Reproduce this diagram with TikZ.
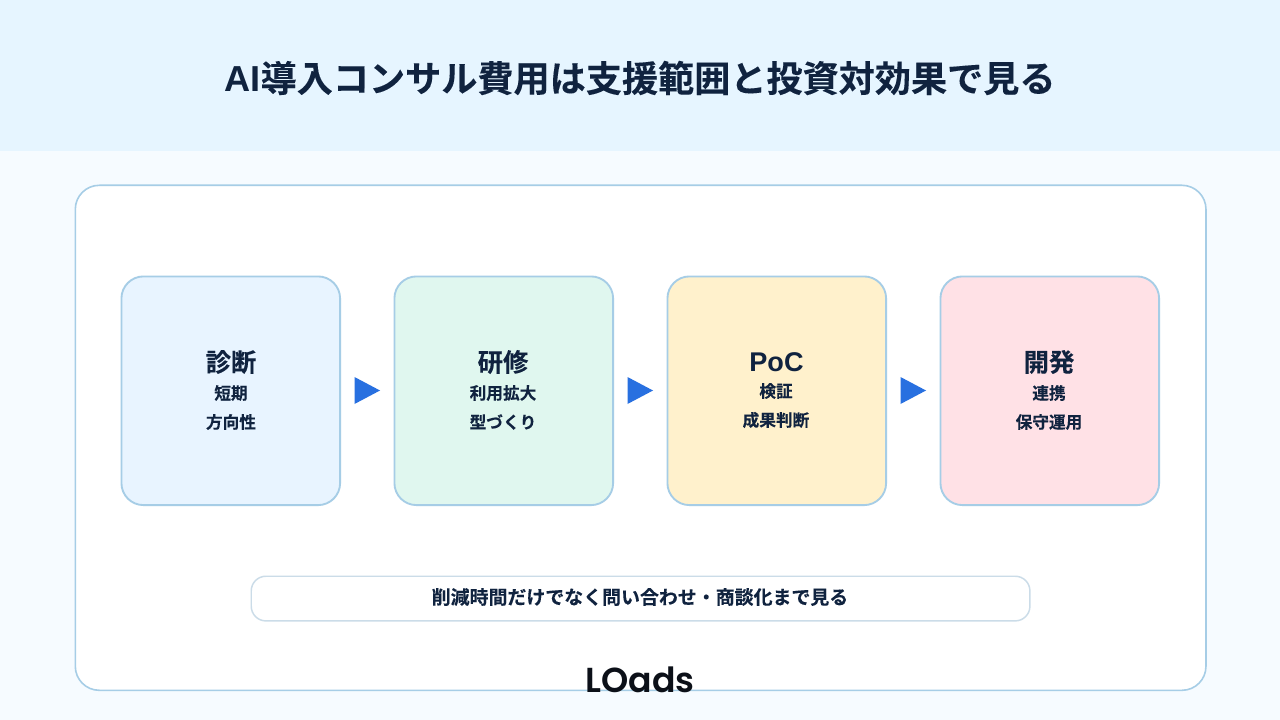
\documentclass[tikz,border=0pt]{standalone}
\usepackage{fontspec}
\setmainfont{Noto Sans CJK JP}[BoldFont={Noto Sans CJK JP Bold},BoldFeatures={FakeBold=0.12}]
\newfontfamily\logofont{Poppins}[BoldFont={Poppins SemiBold}]
\newfontfamily\latinfont{Liberation Sans}[BoldFont={Liberation Sans Bold}]
\definecolor{ink}{HTML}{10233F}
\definecolor{headbg}{HTML}{E6F5FF}
\definecolor{pagebg}{HTML}{F6FBFF}
\definecolor{edge}{HTML}{A6CDE6}
\definecolor{noteedge}{HTML}{CBDCE8}
\definecolor{arrowblue}{HTML}{2870E0}
\definecolor{logoink}{HTML}{0C1018}
\definecolor{fa}{HTML}{E8F4FF}
\definecolor{fb}{HTML}{E0F7EF}
\definecolor{fc}{HTML}{FFF1CC}
\definecolor{fd}{HTML}{FFE1E6}
\tikzset{
 x=0.75pt,y=-0.75pt,
 stagebox/.style={draw=edge,line width=1.4pt,rounded corners=16.5pt,minimum width=164pt,minimum height=171.5pt,inner sep=0pt,anchor=north west},
 stagehead/.style={font=\fontsize{19pt}{22pt}\selectfont\bfseries,text=ink,inner sep=0pt},
 stagesub/.style={font=\fontsize{12.5pt}{15pt}\selectfont\bfseries,text=ink,inner sep=0pt},
 flowtip/.style={fill=arrowblue,draw=none},
}
\begin{document}
\begin{tikzpicture}
\useasboundingbox (0,0) rectangle (1280,720);
\fill[pagebg] (0,0) rectangle (1280,720);
\fill[headbg] (0,0) rectangle (1280,151);
\node[font=\fontsize{27.1pt}{32pt}\selectfont\bfseries,text=ink,inner sep=0pt] (title) at (640,78) {{\latinfont AI}導入コンサル費用は支援範囲と投資対効果で見る};
\node[draw=edge,line width=1.2pt,fill=white,rounded corners=18pt,minimum width=848pt,minimum height=378.75pt,inner sep=0pt,anchor=north west] (panel) at (74.5,184.5) {};
\node[stagebox,fill=fa] (a) at (120.5,275.5) {};
\node[stagebox,fill=fb] (b) at (393.5,275.5) {};
\node[stagebox,fill=fc] (c) at (666.5,275.5) {};
\node[stagebox,fill=fd] (d) at (939.5,275.5) {};
\node[stagehead] (a1) at (231,362) {診断};
\node[stagesub] (a2) at (231,393) {短期};
\node[stagesub] (a3) at (231,422) {方向性};
\node[stagehead] (b1) at (503,362) {研修};
\node[stagesub] (b2) at (503,393) {利用拡大};
\node[stagesub] (b3) at (503,422) {型づくり};
\node[stagehead,font=\fontsize{20.3pt}{22pt}\selectfont\bfseries] (c1) at (776.5,362) {\latinfont PoC};
\node[stagesub] (c2) at (776,391) {検証};
\node[stagesub] (c3) at (776,420) {成果判断};
\node[stagehead] (d1) at (1049,362) {開発};
\node[stagesub] (d2) at (1049,393) {連携};
\node[stagesub] (d3) at (1049,422) {保守運用};
\fill[flowtip] (354.5,377) -- (380,390.5) -- (354.5,404) -- cycle;
\fill[flowtip] (627.5,377) -- (653,390.5) -- (627.5,404) -- cycle;
\fill[flowtip] (900.5,377) -- (926,390.5) -- (900.5,404) -- cycle;
\node[draw=noteedge,line width=1.1pt,fill=white,rounded corners=11pt,minimum width=584pt,minimum height=33.5pt,inner sep=0pt,anchor=north west] (note) at (250.5,575.5) {};
\node[font=\fontsize{14.2pt}{17pt}\selectfont\bfseries,text=ink,inner sep=0pt] (notet) at (640,597) {削減時間だけでなく問い合わせ・商談化まで見る};
\node[font=\logofont\fontsize{26pt}{28pt}\selectfont\bfseries,text=logoink,inner sep=0pt] (logo) at (640,680) {LOads};
\end{tikzpicture}
\end{document}
